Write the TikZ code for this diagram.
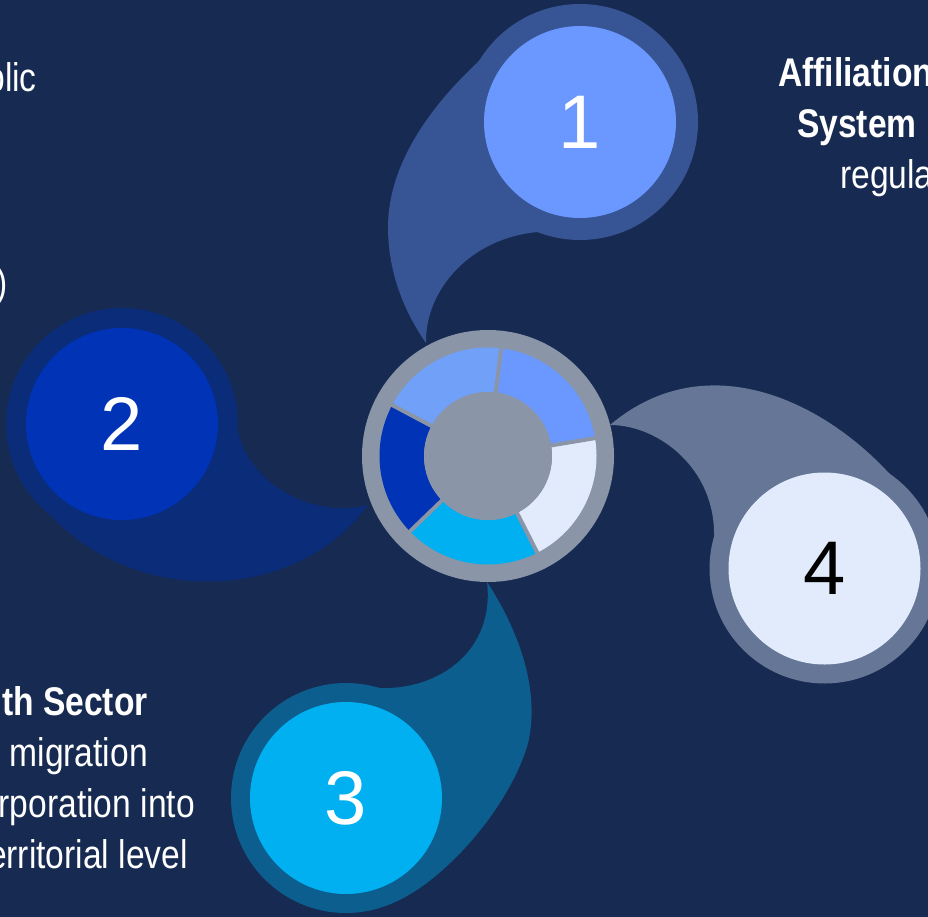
\documentclass[tikz,border=0pt]{standalone}
\usepackage{fontspec}
\setmainfont{Liberation Sans}
\newfontfamily\narrowsans[FakeStretch=0.84]{Liberation Sans}

\definecolor{bg}{RGB}{23,42,81}
\definecolor{ringgray}{RGB}{138,149,168}
% halo (outer) colours of the four drops
\definecolor{haloA}{RGB}{55,85,148}
\definecolor{haloB}{RGB}{10,44,121}
\definecolor{haloC}{RGB}{12,94,142}
\definecolor{haloD}{RGB}{101,118,150}
% inner disc colours
\definecolor{discA}{RGB}{107,152,255}
\definecolor{discB}{RGB}{0,51,182}
\definecolor{discC}{RGB}{0,176,240}
\definecolor{discD}{RGB}{225,235,252}
\definecolor{segE}{RGB}{112,160,248}

\tikzset{
  halo/.style={circle, inner sep=0pt, minimum size=#1},
  halo/.default=230pt,
  disc/.style={circle, inner sep=0pt, minimum size=192pt,
               font=\fontsize{76}{76}\selectfont},
  txt/.style={text=white, inner sep=0pt,
              font=\narrowsans\fontsize{40}{51}\selectfont},
  btxt/.style={txt, font=\narrowsans\bfseries\fontsize{40}{51}\selectfont},
}

\begin{document}
\begin{tikzpicture}[x=1pt,y=-1pt]
\useasboundingbox (0,0) rectangle (928,917);
\fill[bg] (0,0) rectangle (928,917);
\clip (0,0) rectangle (928,917);

% ---- drop 1 (top) ----
\fill[haloA] (503,40) .. controls (430,100) and (388,165) .. (388,227)
  .. controls (388,280) and (410,320) .. (426,343)
  .. controls (425,290) and (470,238) .. (538,232) -- (580,122) -- cycle;
\node[halo=236pt, fill=haloA] (h1) at (580,122) {};

% ---- drop 2 (left) ----
\fill[haloB] (236,415) .. controls (238,480) and (310,520) .. (368,505)
  .. controls (300,600) and (140,610) .. (50,515) -- (122,424) -- cycle;
\node[halo=232pt, fill=haloB] (h2) at (122,424) {};

% ---- drop 3 (bottom) ----
\fill[haloC] (487,582) .. controls (495,650) and (440,690) .. (380,688)
  -- (346,798) -- (395,902) .. controls (440,883) and (505,815) .. (527,747)
  .. controls (540,700) and (525,640) .. (487,582) -- cycle;
\node[halo=230pt, fill=haloC] (h3) at (346,798) {};

% ---- drop 4 (right) ----
\fill[haloD] (610,425) .. controls (660,425) and (715,470) .. (714,535)
  -- (824.5,568.5) -- (920,513) .. controls (860,420) and (720,332) .. (610,425) -- cycle;
\node[halo=230pt, fill=haloD] (h4) at (824.5,568.5) {};

% numbered discs
\node[disc, fill=discA, text=white] (d1) at (h1.center) {1};
\node[disc, fill=discB, text=white] (d2) at (h2.center) {2};
\node[disc, fill=discC, text=white] (d3) at (h3.center) {3};
\node[disc, fill=discD, text=black] (d4) at (h4.center) {4};

% ---- central hub ----
\node[circle, inner sep=0pt, minimum size=252pt, fill=ringgray] (hub) at (488,456) {};
\begin{scope}[shift={(hub.center)}, yscale=-1]
  \foreach \a/\b/\c in {9.5/83/discA, 83/152/segE, 152/224/discB,
                        224/297/discC, 297/369.5/discD}{
    \fill[\c] (\a:108.5) arc[start angle=\a, end angle=\b, radius=108.5]
      -- (\b:64) arc[start angle=\b, end angle=\a, radius=64] -- cycle;
  }
  \foreach \a in {9.5,83,152,224,297}{
    \draw[ringgray, line width=4pt] (\a:60) -- (\a:112);
  }
\end{scope}
\node[circle, inner sep=0pt, minimum size=128pt, fill=ringgray] (core) at (hub.center) {};

% ---- text blocks ----
\node[txt, anchor=base east] (tl1) at (37,92) {blic};
\node[txt, anchor=base east] (tl5) at (8,296) {)};

\node[btxt, anchor=base west] (tr1) at (778,87) {Affiliation};
\node[btxt, anchor=base west] (tr2) at (797,138) {System};
\node[txt, anchor=base west] (tr3) at (840,189) {regula};

\node[btxt, anchor=base east] (bl1) at (148,715) {th Sector};
\node[txt, anchor=base east] (bl2) at (148,766) {migration};
\node[txt, anchor=base east] (bl3) at (195,817) {rporation into};
\node[txt, anchor=base east] (bl4) at (188,868) {erritorial level};
\end{tikzpicture}
\end{document}
